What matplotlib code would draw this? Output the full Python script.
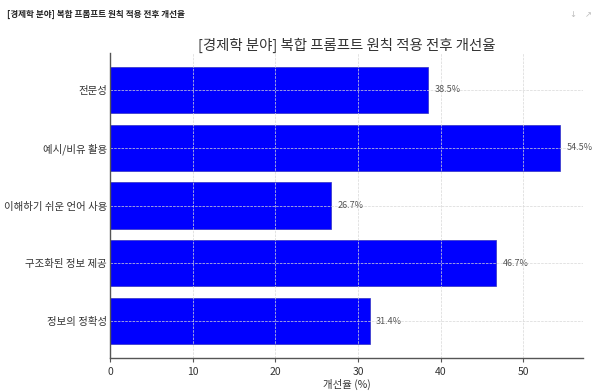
import matplotlib
matplotlib.use("Agg")
import matplotlib.pyplot as plt

plt.rcParams['font.family'] = ['Noto Sans CJK KR', 'DejaVu Sans']

# data
categories = ["전문성", "예시/비유 활용", "이해하기 쉬운 언어 사용", "구조화된 정보 제공", "정보의 정확성"]
values = [38.5, 54.5, 26.7, 46.7, 31.4]
x_ticks = [0, 10, 20, 30, 40, 50]

title = "[경제학 분야] 복합 프롬프트 원칙 적용 전후 개선율"

fig = plt.figure(figsize=(6, 3.91), dpi=100)
ax = fig.add_axes([0.1833, 0.0844, 0.7884, 0.78])

ax.barh(categories, values, height=0.8, color="#0000ff", edgecolor="#3030c0", linewidth=0.5)
ax.invert_yaxis()
ax.set_xlim(0, max(values) * 1.05)
ax.set_xticks(x_ticks)

for i, v in enumerate(values):
    ax.text(v + 0.8, i, f"{v}%", va="center", ha="left", fontsize=6.5, color="#555555")

ax.set_axisbelow(False)
ax.grid(True, linestyle="--", linewidth=0.5, color="#d8d8d8")

for s in ["top", "right"]:
    ax.spines[s].set_visible(False)
for s in ["left", "bottom"]:
    ax.spines[s].set_color("#555555")
    ax.spines[s].set_linewidth(1.0)
    ax.spines[s].set_zorder(5)

ax.tick_params(axis="y", length=0, labelsize=7.5, labelcolor="#333333", pad=2)
ax.tick_params(axis="x", length=3, labelsize=7.5, labelcolor="#333333", color="#555555")
ax.set_xlabel("개선율 (%)", fontsize=7.5, color="#333333", labelpad=1)
ax.set_title(title, fontsize=10.4, color="#333333", pad=2)

# page header above the chart
fig.text(0.012, 0.962, title, fontsize=6.2, fontweight="bold", color="#222222", va="center")
fig.text(0.948, 0.962, "↓", fontsize=6, color="#bbbbbb", va="center", family=["DejaVu Sans"])
fig.text(0.975, 0.962, "↗", fontsize=6, color="#bbbbbb", va="center", family=["DejaVu Sans"])

fig.savefig("out.png", dpi=100)
